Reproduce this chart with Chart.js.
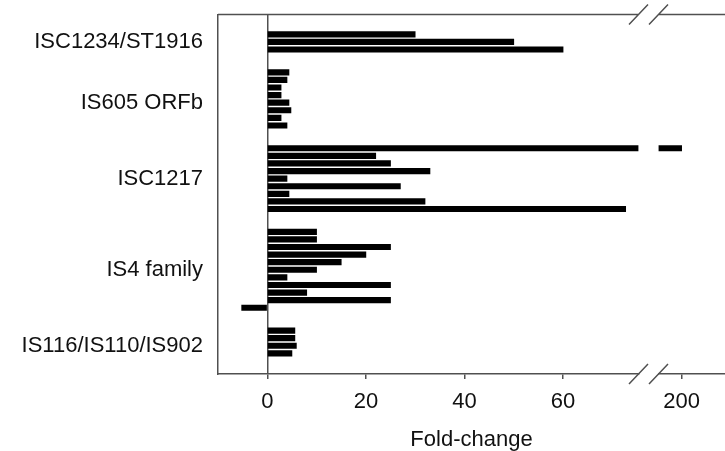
<!DOCTYPE html>
<html>
<head>
<meta charset="utf-8">
<script src="https://cdn.jsdelivr.net/npm/chart.js@4/dist/chart.umd.min.js"></script>
<style>
  html, body { margin: 0; padding: 0; background: #fff; }
  #wrap { width: 725px; height: 451px; }
</style>
</head>
<body>
<div id="wrap"><canvas id="c" width="725" height="451"></canvas></div>
<script>
// ---- data ----
const GROUPS = ['ISC1234/ST1916', 'IS605 ORFb', 'ISC1217', 'IS4 family', 'IS116/IS110/IS902'];
const ISC1234_ST1916 = [30, 50, 60];
const IS605_ORFB = [4.4, 4.0, 2.8, 2.8, 4.4, 4.8, 2.8, 4.0];
const ISC1217 = [200, 22, 25, 33, 4, 27, 4.4, 32, 72.7];
const IS4_FAMILY = [10, 10, 25, 20, 15, 10, 4, 25, 8, 25, -5.2];
const IS116_IS110_IS902 = [5.6, 5.6, 5.9, 5.0];
const X_TICKS_LOW = [0, 20, 40, 60];
const X_TICKS_HIGH = [200];
const X_TITLE = 'Fold-change';

// ---- axis break ranges ----
const LOW_MIN = -10, LOW_MAX = 75.3;
const HIGH_MIN = 195.3, HIGH_MAX = 208.8;

const groupValues = [ISC1234_ST1916, IS605_ORFB, ISC1217, IS4_FAMILY, IS116_IS110_IS902];
const GAP_ROWS = 2;

const lowData = [], highData = [], labelRows = [], labelText = {};
let row = 0;
groupValues.forEach((vals, gi) => {
  const start = row;
  vals.forEach(v => {
    lowData.push({ x: Math.min(v, LOW_MAX), y: row });
    if (v > LOW_MAX) highData.push({ x: [HIGH_MIN, v], y: row });
    row++;
  });
  const lr = start + Math.floor(vals.length / 2);
  labelRows.push(lr);
  labelText[lr] = GROUPS[gi];
  row += GAP_ROWS;
});
const lastRow = row - GAP_ROWS - 1;

const FONT = "'Liberation Sans', Arial, sans-serif";
const TEXT = '#111';
const LINE = '#505050';
const AX_H = 52.6;

const breakPlugin = {
  id: 'breakFrame',
  afterDraw(chart) {
    const { ctx, chartArea } = chart;
    const xl = chart.scales.x, xh = chart.scales.x2;
    const b1 = xl.right, b2 = xh.left;
    ctx.save();
    ctx.strokeStyle = LINE;
    ctx.lineWidth = 1.5;
    ctx.beginPath();
    ctx.moveTo(chartArea.left, chartArea.top);
    ctx.lineTo(b1, chartArea.top);
    ctx.moveTo(b2, chartArea.top);
    ctx.lineTo(chartArea.right, chartArea.top);
    [chartArea.top, chartArea.bottom].forEach(y => {
      [b1, b2].forEach(cx => {
        ctx.moveTo(cx - 9.5, y + 10);
        ctx.lineTo(cx + 9.5, y - 10);
      });
    });
    ctx.stroke();
    ctx.restore();
  }
};

const tickFont = { family: FONT, size: 22 };

new Chart(document.getElementById('c'), {
  type: 'bar',
  data: {
    datasets: [
      { data: lowData, xAxisID: 'x', yAxisID: 'y', backgroundColor: '#000', borderWidth: 0, grouped: false, barThickness: 5.5 },
      { data: highData, xAxisID: 'x2', yAxisID: 'y', backgroundColor: '#000', borderWidth: 0, grouped: false, barThickness: 5.5 }
    ]
  },
  options: {
    indexAxis: 'y',
    responsive: false,
    animation: false,
    events: [],
    layout: { padding: { top: 14.5, right: 0, left: 0, bottom: -2 } },
    plugins: {
      legend: { display: false },
      tooltip: { enabled: false },
      title: {
        display: true,
        text: X_TITLE,
        position: 'bottom',
        fullSize: false,
        padding: 0,
        color: TEXT,
        font: { family: FONT, size: 22, weight: 'normal' }
      }
    },
    scales: {
      y: {
        type: 'linear',
        position: 'left',
        reverse: true,
        offset: false,
        min: -2.61,
        max: lastRow + 2.72,
        afterBuildTicks: s => { s.ticks = labelRows.map(v => ({ value: v })); },
        afterFit: s => { s.width = 218; s.paddingTop = 0; s.paddingBottom = 0; },
        ticks: {
          autoSkip: false,
          padding: 7,
          color: TEXT,
          font: tickFont,
          callback: v => labelText[v] || ''
        },
        grid: { display: false },
        border: { display: true, color: LINE, width: 1.5 }
      },
      x: {
        type: 'linear',
        position: 'bottom',
        stack: 'xs',
        stackWeight: 420.5,
        min: LOW_MIN,
        max: LOW_MAX,
        afterBuildTicks: s => { s.ticks = X_TICKS_LOW.map(v => ({ value: v })); },
        afterFit: s => { s.height = AX_H; },
        ticks: { color: TEXT, font: tickFont, padding: 10, maxRotation: 0, autoSkip: false },
        grid: {
          color: c => (c.tick && c.tick.value === 0) ? LINE : 'rgba(0,0,0,0)',
          tickColor: LINE,
          tickLength: 5,
          lineWidth: 1.5
        },
        border: { display: true, color: LINE, width: 1.5 }
      },
      xgap: {
        type: 'linear',
        position: 'bottom',
        stack: 'xs',
        stackWeight: 20,
        afterFit: s => { s.height = AX_H; },
        ticks: { display: false },
        grid: { display: false },
        border: { display: false }
      },
      x2: {
        type: 'linear',
        position: 'bottom',
        stack: 'xs',
        stackWeight: 66.5,
        min: HIGH_MIN,
        max: HIGH_MAX,
        afterBuildTicks: s => { s.ticks = X_TICKS_HIGH.map(v => ({ value: v })); },
        afterFit: s => { s.height = AX_H; },
        ticks: { color: TEXT, font: tickFont, padding: 10, maxRotation: 0, autoSkip: false },
        grid: { drawOnChartArea: false, color: LINE, tickColor: LINE, tickLength: 5, lineWidth: 1.5 },
        border: { display: true, color: LINE, width: 1.5 }
      }
    }
  },
  plugins: [breakPlugin]
});
</script>
</body>
</html>
